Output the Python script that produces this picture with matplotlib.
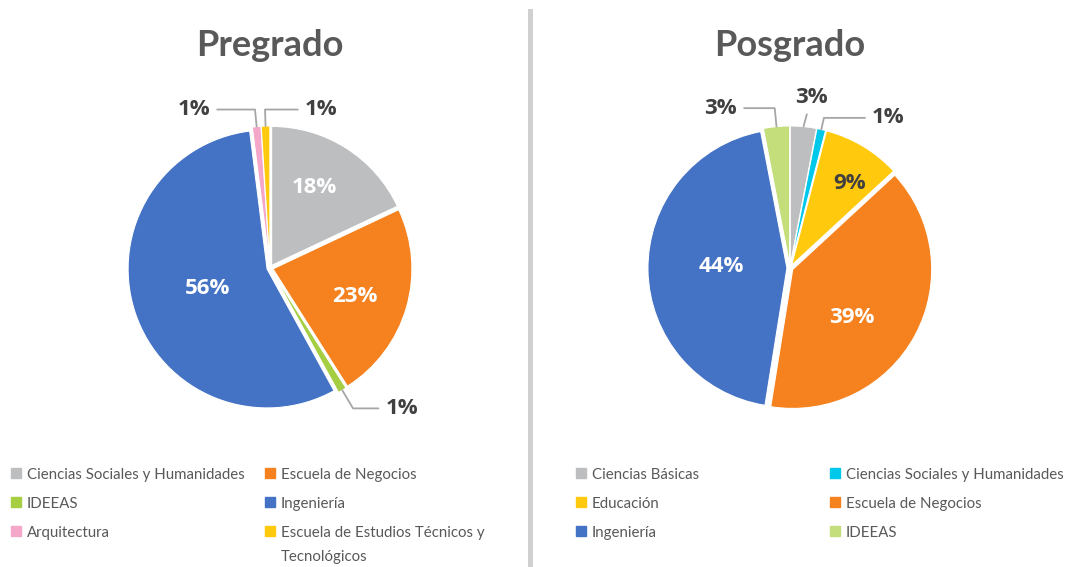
import numpy as np
import matplotlib
matplotlib.use("Agg")
import matplotlib.pyplot as plt
from matplotlib.patches import Rectangle
from matplotlib.lines import Line2D

# ---------------- data ----------------
pre_title = "Pregrado"
pre_labels = ["Ciencias Sociales y Humanidades", "Escuela de Negocios", "IDEEAS",
              "Ingeniería", "Arquitectura", "Escuela de Estudios Técnicos y\nTecnológicos"]
pre_values = [18, 23, 1, 56, 1, 1]
pre_colors = ["#BDBEC0", "#F5821F", "#A5CE42", "#4472C4", "#F5A7C9", "#FFC90E"]

pos_title = "Posgrado"
pos_labels = ["Ciencias Básicas", "Ciencias Sociales y Humanidades", "Educación",
              "Escuela de Negocios", "Ingeniería", "IDEEAS"]
pos_values = [3, 1, 9, 39, 44, 3]
pos_colors = ["#BDBEC0", "#00C8EA", "#FFC90E", "#F5821F", "#4472C4", "#C3DE7B"]

# ---------------- layout ----------------
W, H = 1090, 567
PX = 139.0  # pixels per unit radius
fig = plt.figure(figsize=(W / 100, H / 100), dpi=100)

TITLE_FONT = "Lato"
LAB_FONT = "Open Sans"
TXT_DARK = "#404040"


def fx(x):
    return x / W


def fy(y):
    return 1 - y / H


def make_ax(cx, cy):
    half = 175
    ax = fig.add_axes([fx(cx - half), fy(cy + half), 2 * half / W, 2 * half / H])
    return ax


# label layout: per slice -> ('in', r, dtheta, color) or ('out', (tx, ty), ha, style)
pre_layout = [
    ("in", 0.64, 3.5, "white"),
    ("in", 0.62, -2.7, "white"),
    ("out", (0.83, -1.01), "left", "elbow"),
    ("in", 0.45, 0, "white"),
    ("out", (-0.43, 1.14), "right", "elbow"),
    ("out", (0.25, 1.14), "left", "elbow"),
]
pos_layout = [
    ("out", (0.155, 1.23), "center", "straight"),
    ("out", (0.59, 1.08), "left", "elbow"),
    ("in", 0.72, -4.4, TXT_DARK),
    ("in", 0.55, -11, "white"),
    ("in", 0.47, -2, "white"),
    ("out", (-0.38, 1.15), "right", "elbow"),
]


def draw_pie(cx, cy, values, colors, layout, title):
    ax = make_ax(cx, cy)
    explode = [0.022] * len(values)
    wedges, _ = ax.pie(values, colors=colors, startangle=90, counterclock=False,
                       explode=explode, radius=1.0,
                       wedgeprops=dict(edgecolor="white", linewidth=0.8))
    lim = 175 / PX
    ax.set_xlim(-lim, lim)
    ax.set_ylim(-lim, lim)
    ax.set_aspect("auto")
    ax.axis("off")
    for w, v, lay in zip(wedges, values, layout):
        mid = np.deg2rad((w.theta1 + w.theta2) / 2)
        pct = f"{v}%"
        ox, oy = w.center
        if lay[0] == "in":
            r, dth = lay[1], np.deg2rad(lay[2])
            ang = mid + dth
            ax.text(ox + r * np.cos(ang), oy + r * np.sin(ang), pct,
                    ha="center", va="center", color=lay[3], fontsize=16,
                    fontweight="bold", family=LAB_FONT)
        else:
            tx, ty = lay[1]
            tip = (ox + 1.0 * np.cos(mid), oy + 1.0 * np.sin(mid))
            if lay[3] == "elbow":
                cs = "angle,angleA=0,angleB={:.1f},rad=0".format(np.rad2deg(mid))
            else:
                cs = "arc3,rad=0"
            ax.annotate(pct, xy=tip, xytext=(tx, ty), ha=lay[2], va="center",
                        color=TXT_DARK, fontsize=16, fontweight="bold", family=LAB_FONT,
                        annotation_clip=False,
                        arrowprops=dict(arrowstyle="-", color="#A6A6A6", lw=1.3,
                                        connectionstyle=cs, shrinkA=3, shrinkB=0))
    fig.text(fx(cx), fy(56), title, ha="center", va="baseline", fontsize=26,
             fontweight="bold", color="#595959", family=TITLE_FONT)


draw_pie(270, 268, pre_values, pre_colors, pre_layout, pre_title)
draw_pie(790, 268, pos_values, pos_colors, pos_layout, pos_title)

# divider
fig.add_artist(Line2D([fx(529.5), fx(529.5)], [fy(11), fy(567)], color="#D0D0D0", lw=3.6))


def draw_legend(labels, colors, col_x, row_y):
    for i, (lab, col) in enumerate(zip(labels, colors)):
        x = col_x[i % 2]
        y = row_y[i // 2]
        fig.add_artist(Rectangle((fx(x), fy(y + 5)), 10 / W, 10 / H, color=col,
                                 transform=fig.transFigure))
        fig.text(fx(x + 16), fy(y - 5), lab, ha="left", va="top", fontsize=10.8,
                 color="#595959", family=TITLE_FONT, linespacing=1.95)


draw_legend(pre_labels, pre_colors, [11, 265], [473, 502, 531])
draw_legend(pos_labels, pos_colors, [576, 830], [473, 502, 531])

fig.savefig("out.png", dpi=100, facecolor="white")
